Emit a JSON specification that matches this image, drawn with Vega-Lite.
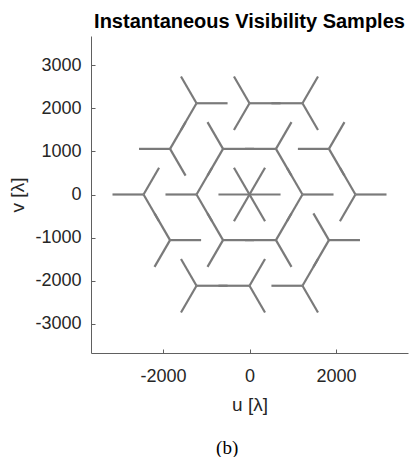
{
  "$schema": "https://vega.github.io/schema/vega-lite/v6.json",
  "width": 317,
  "height": 317,
  "autosize": {"type": "none"},
  "padding": {"left": 91, "top": 36, "right": 2, "bottom": 104},
  "background": "white",
  "title": {"text": "Instantaneous Visibility Samples", "font": "Liberation Sans", "fontSize": 20, "fontWeight": "bold", "color": "#000000", "anchor": "middle", "offset": 4},
  "config": {
    "view": {"stroke": null},
    "axis": {"grid": false, "domainColor": "#606060", "tickColor": "#606060", "domainWidth": 1, "tickWidth": 1, "labelColor": "#262626", "titleColor": "#262626", "labelFont": "Liberation Sans", "titleFont": "Liberation Sans", "labelFontSize": 18, "titleFontSize": 19, "titleFontWeight": "normal", "tickSize": -4}
  },
  "layer": [
    {
      "data": {"values": [
        {"u": -718, "v": 0, "u2": 718, "v2": 0},
        {"u": -359, "v": -622, "u2": 359, "v2": 622},
        {"u": -359, "v": 622, "u2": 359, "v2": -622},
        {"u": 1225, "v": 0, "u2": 1943, "v2": 0},
        {"u": 1225, "v": 0, "u2": 866, "v2": 622},
        {"u": 1225, "v": 0, "u2": 866, "v2": -622},
        {"u": 612, "v": 1061, "u2": 971, "v2": 1683},
        {"u": 612, "v": 1061, "u2": -106, "v2": 1061},
        {"u": 612, "v": 1061, "u2": 971, "v2": 439},
        {"u": -612, "v": 1061, "u2": 106, "v2": 1061},
        {"u": -612, "v": 1061, "u2": -971, "v2": 1683},
        {"u": -612, "v": 1061, "u2": -971, "v2": 439},
        {"u": -1225, "v": 0, "u2": -866, "v2": 622},
        {"u": -1225, "v": 0, "u2": -1943, "v2": 0},
        {"u": -1225, "v": 0, "u2": -866, "v2": -622},
        {"u": -612, "v": -1061, "u2": 106, "v2": -1061},
        {"u": -612, "v": -1061, "u2": -971, "v2": -439},
        {"u": -612, "v": -1061, "u2": -971, "v2": -1683},
        {"u": 612, "v": -1061, "u2": 971, "v2": -439},
        {"u": 612, "v": -1061, "u2": -106, "v2": -1061},
        {"u": 612, "v": -1061, "u2": 971, "v2": -1683},
        {"u": -1225, "v": 2122, "u2": -507, "v2": 2122},
        {"u": -1225, "v": 2122, "u2": -1584, "v2": 2744},
        {"u": -1225, "v": 2122, "u2": -1584, "v2": 1500},
        {"u": 0, "v": 2122, "u2": 718, "v2": 2122},
        {"u": 0, "v": 2122, "u2": -359, "v2": 2744},
        {"u": 0, "v": 2122, "u2": -359, "v2": 1500},
        {"u": 1225, "v": 2122, "u2": 1584, "v2": 2744},
        {"u": 1225, "v": 2122, "u2": 507, "v2": 2122},
        {"u": 1225, "v": 2122, "u2": 1584, "v2": 1500},
        {"u": -1837, "v": 1061, "u2": -1478, "v2": 1683},
        {"u": -1837, "v": 1061, "u2": -2555, "v2": 1061},
        {"u": -1837, "v": 1061, "u2": -1478, "v2": 439},
        {"u": 1837, "v": 1061, "u2": 2196, "v2": 1683},
        {"u": 1837, "v": 1061, "u2": 1119, "v2": 1061},
        {"u": 1837, "v": 1061, "u2": 2196, "v2": 439},
        {"u": -2450, "v": 0, "u2": -2091, "v2": 622},
        {"u": -2450, "v": 0, "u2": -3168, "v2": 0},
        {"u": -2450, "v": 0, "u2": -2091, "v2": -622},
        {"u": 2450, "v": 0, "u2": 3168, "v2": 0},
        {"u": 2450, "v": 0, "u2": 2091, "v2": 622},
        {"u": 2450, "v": 0, "u2": 2091, "v2": -622},
        {"u": -1837, "v": -1061, "u2": -1119, "v2": -1061},
        {"u": -1837, "v": -1061, "u2": -2196, "v2": -439},
        {"u": -1837, "v": -1061, "u2": -2196, "v2": -1683},
        {"u": 1837, "v": -1061, "u2": 2555, "v2": -1061},
        {"u": 1837, "v": -1061, "u2": 1478, "v2": -439},
        {"u": 1837, "v": -1061, "u2": 1478, "v2": -1683},
        {"u": -1225, "v": -2122, "u2": -507, "v2": -2122},
        {"u": -1225, "v": -2122, "u2": -1584, "v2": -1500},
        {"u": -1225, "v": -2122, "u2": -1584, "v2": -2744},
        {"u": 0, "v": -2122, "u2": 359, "v2": -1500},
        {"u": 0, "v": -2122, "u2": -718, "v2": -2122},
        {"u": 0, "v": -2122, "u2": 359, "v2": -2744},
        {"u": 1225, "v": -2122, "u2": 1584, "v2": -1500},
        {"u": 1225, "v": -2122, "u2": 507, "v2": -2122},
        {"u": 1225, "v": -2122, "u2": 1584, "v2": -2744}
      ]},
      "mark": {"type": "rule", "color": "#7a7a7a", "strokeWidth": 2.2},
      "encoding": {
        "x": {"field": "u", "type": "quantitative", "scale": {"domain": [-3665, 3665], "nice": false, "zero": false}, "axis": {"title": "u [λ]", "values": [-2000, 0, 2000], "labelPadding": 18, "titlePadding": 10, "labelExpr": "'' + datum.value"}},
        "y": {"field": "v", "type": "quantitative", "scale": {"domain": [-3686, 3686], "nice": false, "zero": false}, "axis": {"title": "v [λ]", "values": [-3000, -2000, -1000, 0, 1000, 2000, 3000], "labelPadding": 14, "titlePadding": 7, "labelExpr": "'' + datum.value"}},
        "x2": {"field": "u2"},
        "y2": {"field": "v2"}
      }
    },
    {
      "data": {"values": [{"label": "(b)", "u": -516, "v": -5884}]},
      "mark": {"type": "text", "font": "Liberation Serif", "fontSize": 19, "color": "#000000", "baseline": "middle", "align": "center", "clip": false},
      "encoding": {
        "x": {"field": "u", "type": "quantitative"},
        "y": {"field": "v", "type": "quantitative"},
        "text": {"field": "label"}
      }
    }
  ]
}
